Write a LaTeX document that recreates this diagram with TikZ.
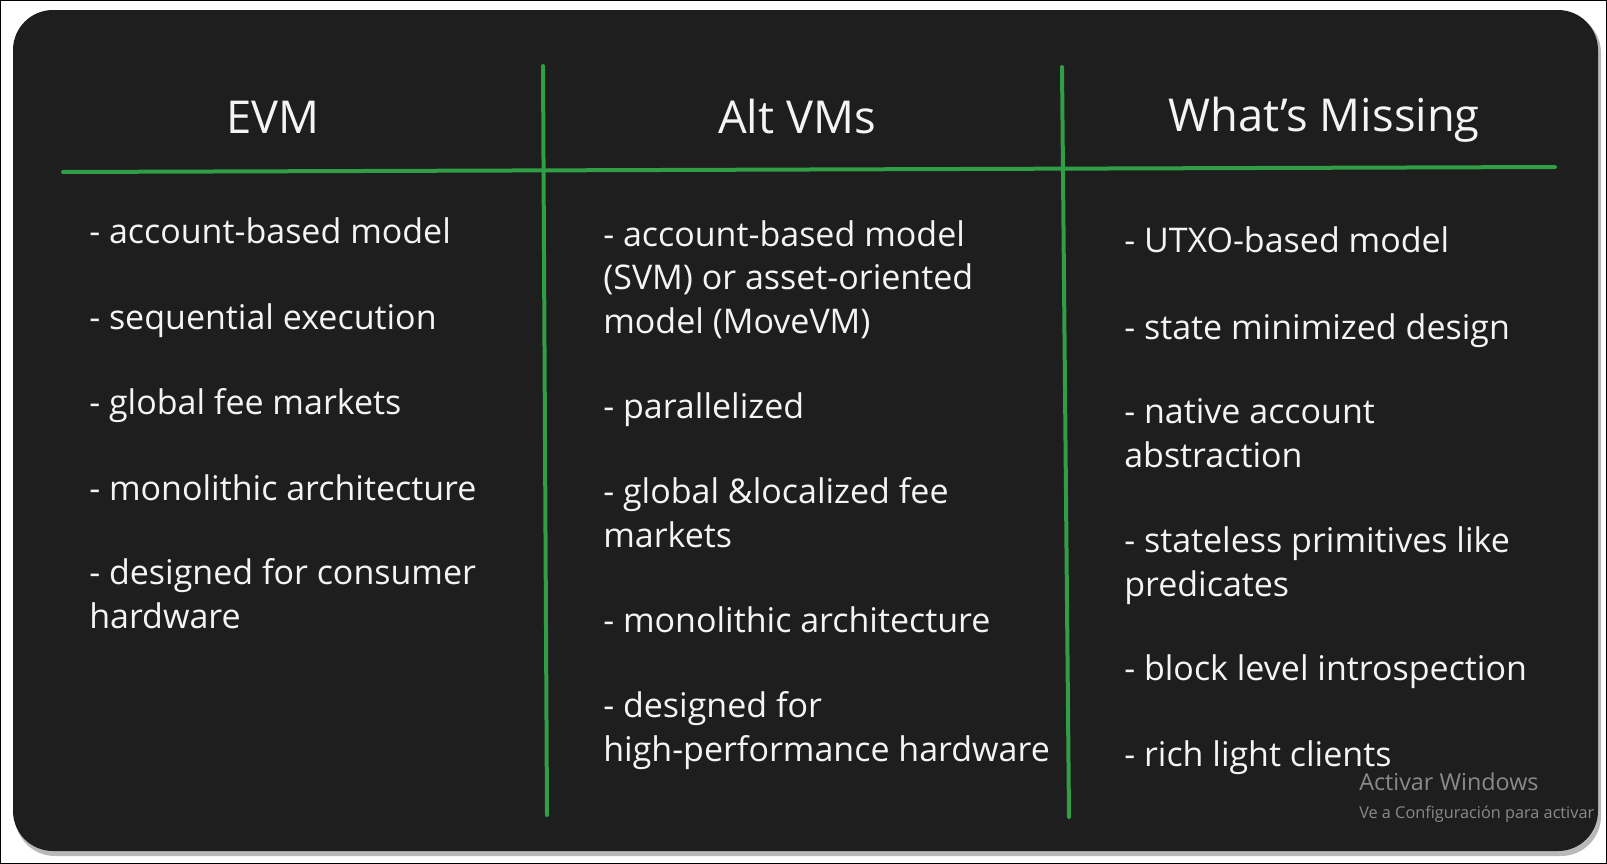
\documentclass[tikz,border=0pt]{standalone}
\usepackage{fontspec}
\setmainfont{Open Sans}
\definecolor{boardbg}{HTML}{1E1E1E}
\definecolor{linegreen}{HTML}{2F9E44}
\definecolor{inkwhite}{HTML}{F4F4F4}
\definecolor{wmgray}{HTML}{8A8A8A}

\begin{document}
\begin{tikzpicture}[x=0.75pt, y=-0.75pt,
    head/.style={text=inkwhite, font=\fontsize{34}{40}\selectfont, anchor=base, inner sep=0},
    item/.style={text=inkwhite, font=\fontsize{25.5}{32.5}\selectfont, anchor=base west, align=left, inner sep=0},
    gridline/.style={linegreen, line width=3pt, line cap=round},
    wmtext/.style={text=wmgray, anchor=base west, inner sep=0}]
    \useasboundingbox (0,0) rectangle (1607,864);
    \draw[black, line width=1pt] (0.5,0.5) rectangle (1606.5,863.5);
    \fill[gray!55, rounded corners=30] (15,13) rectangle (1601,856);
    \fill[boardbg, rounded corners=30] (13,10) rectangle (1598,851);

    \coordinate (hl) at (63,172);
    \coordinate (hr) at (1555,167);
    \coordinate (v1t) at (543,66);
    \coordinate (v1b) at (547,815);
    \coordinate (v2t) at (1062,67);
    \coordinate (v2b) at (1069,817);
    \draw[gridline] (hl) -- (hr);
    \draw[gridline] (v1t) -- (v1b);
    \draw[gridline] (v2t) -- (v2b);

    \node[head] (evm) at (273,133) {EVM};
    \node[head] (alt) at (797,133) {Alt VMs};
    \node[head] (miss) at (1324,131) {What's Missing};

    % multi-line items sit on the baseline of their last line
    \node[item] (evm1) at (89,243) {- account-based model};
    \node[item] (evm2) at (89,329) {- sequential execution};
    \node[item] (evm3) at (89,414) {- global fee markets};
    \node[item] (evm4) at (89,500) {- monolithic architecture};
    \node[item] (evm5) at (89,628) {- designed for consumer\\hardware};

    \node[item] (alt1) at (603,333) {- account-based model\\(SVM) or asset-oriented\\model (MoveVM)};
    \node[item] (alt2) at (603,418) {- parallelized};
    \node[item] (alt3) at (603,547) {- global \&localized fee\\markets};
    \node[item] (alt4) at (603,632) {- monolithic architecture};
    \node[item] (alt5) at (603,761) {- designed for\\high-performance hardware};

    \node[item] (miss1) at (1124,252) {- UTXO-based model};
    \node[item] (miss2) at (1124,339) {- state minimized design};
    \node[item] (miss3) at (1124,467) {- native account\\abstraction};
    \node[item] (miss4) at (1124,596) {- stateless primitives like\\predicates};
    \node[item] (miss5) at (1124,680) {- block level introspection};
    \node[item] (miss6) at (1124,766) {- rich light clients};

    \node[wmtext, font=\fontsize{17.5}{20}\selectfont] (wm1) at (1359,790) {Activar Windows};
    \node[wmtext, font=\fontsize{12.2}{15}\selectfont] (wm2) at (1359,818) {Ve a Configuración para activar};
\end{tikzpicture}
\end{document}
